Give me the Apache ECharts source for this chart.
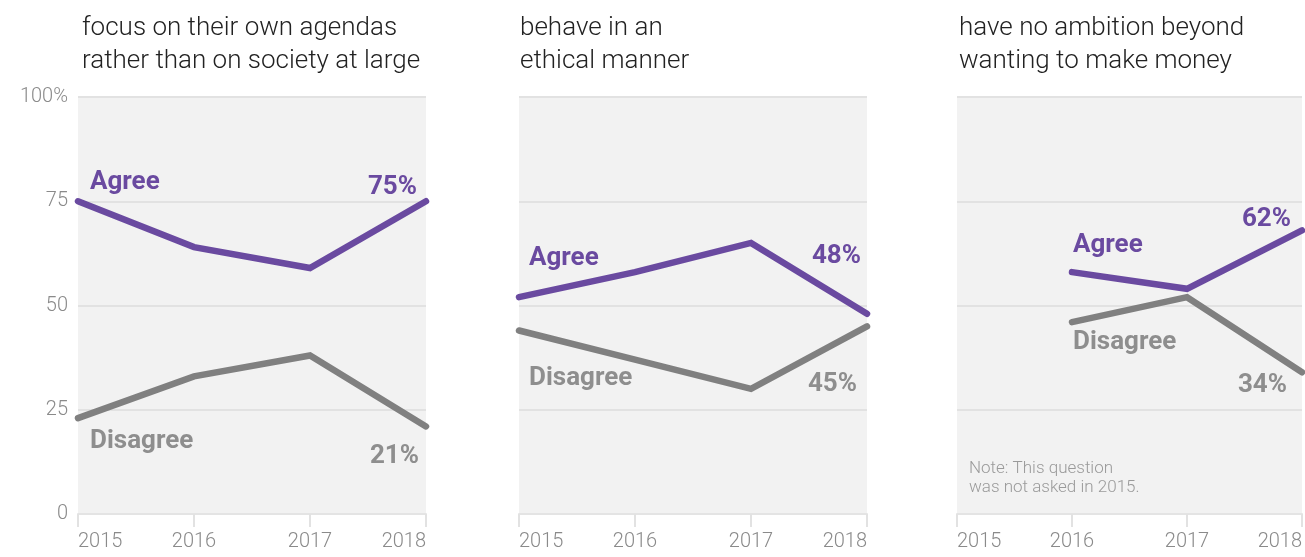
<!DOCTYPE html>
<html>
<head>
<meta charset="utf-8">
<script src="https://cdn.jsdelivr.net/npm/echarts@6/dist/echarts.min.js"></script>
<style>
  html, body { margin: 0; padding: 0; background: #fff; }
  #chart { width: 1305px; height: 557px; }
</style>
</head>
<body>
<div id="chart"></div>
<script>
const years = ['2015', '2016', '2017', '2018'];
const yTicks = [0, 25, 50, 75, 100];

const titles = [
  'focus on their own agendas\nrather than on society at large',
  'behave in an\nethical manner',
  'have no ambition beyond\nwanting to make money'
];

// values
const agree1 = [75, 64, 59, 75];
const disagree1 = [23, 33, 38, 21];
const agree2 = [52, 58, 65, 48];
const disagree2 = [44, 37, 30, 45];
const agree3 = [null, 58, 54, 68];
const disagree3 = [null, 46, 52, 34];

const endAgree = ['75%', '48%', '62%'];
const endDisagree = ['21%', '45%', '34%'];

const purple = '#6a4aa0';
const grey = '#808080';
const greyText = '#8e8e8e';
const axisText = '#8a8a8a';

const myChart = echarts.init(document.getElementById('chart'));

const gridLefts = [78, 519, 957];
const gridWidth = 348;

const grids = gridLefts.map(left => ({
  left: left, top: 97, width: gridWidth, height: 417,
  show: true, backgroundColor: '#f2f2f2', borderWidth: 0
}));

const xAxes = gridLefts.map((l, i) => ({
  type: 'category', gridIndex: i, data: years, boundaryGap: false,
  axisLine: { show: true, lineStyle: { color: '#e4e4e4', width: 2 } },
  axisTick: { show: true, length: 13, lineStyle: { color: '#e2e2e2', width: 2 } },
  axisLabel: {
    color: axisText, fontFamily: 'Roboto', fontWeight: 300, fontSize: 20,
    margin: 18, alignMinLabel: 'left', alignMaxLabel: 'right'
  }
}));

const yAxes = gridLefts.map((l, i) => ({
  type: 'value', gridIndex: i, min: 0, max: 100, interval: 25,
  axisLine: { show: false }, axisTick: { show: false },
  splitLine: { show: true, lineStyle: { color: '#e2e2e2', width: 2 } },
  axisLabel: {
    show: i === 0, color: axisText, fontFamily: 'Roboto', fontWeight: 300,
    fontSize: 20, margin: 10, padding: [5, 0, 0, 0],
    formatter: v => (v === yTicks[yTicks.length - 1] ? v + '%' : String(v))
  }
}));

function line(data, idx, color, z) {
  return {
    type: 'line', xAxisIndex: idx, yAxisIndex: idx, data: data,
    symbol: 'none', z: z, connectNulls: false,
    lineStyle: { color: color, width: 6.5, cap: 'round', join: 'miter' }
  };
}

const series = [
  line(disagree1, 0, grey, 2), line(agree1, 0, purple, 3),
  line(disagree2, 1, grey, 2), line(agree2, 1, purple, 3),
  line(disagree3, 2, grey, 2), line(agree3, 2, purple, 3)
];

const boldFont = { fontFamily: 'Roboto', fontWeight: 'bold', fontSize: 26 };

function txt(x, y, text, color, align) {
  return {
    type: 'text', x: x, y: y, z: 10,
    style: Object.assign({
      text: text, fill: color, textAlign: align || 'left', textVerticalAlign: 'middle'
    }, boldFont)
  };
}

const graphics = [];
titles.forEach((t, i) => {
  graphics.push({
    type: 'text', x: [82, 520, 959][i], y: 12, z: 10,
    style: {
      text: t, fill: '#222', fontFamily: 'Roboto',
      fontWeight: 300, fontSize: 26, lineHeight: 33
    }
  });
});

// series name labels and end value labels
graphics.push(txt(90, 182, 'Agree', purple));
graphics.push(txt(90, 441, 'Disagree', greyText));
graphics.push(txt(417, 187, endAgree[0], purple, 'right'));
graphics.push(txt(419, 456, endDisagree[0], greyText, 'right'));

graphics.push(txt(529, 258, 'Agree', purple));
graphics.push(txt(529, 378, 'Disagree', greyText));
graphics.push(txt(861, 256, endAgree[1], purple, 'right'));
graphics.push(txt(857, 384, endDisagree[1], greyText, 'right'));

graphics.push(txt(1073, 245, 'Agree', purple));
graphics.push(txt(1073, 342, 'Disagree', greyText));
graphics.push(txt(1291, 219, endAgree[2], purple, 'right'));
graphics.push(txt(1287, 385, endDisagree[2], greyText, 'right'));

graphics.push({
  type: 'text', x: 969, y: 459, z: 10,
  style: {
    text: 'Note: This question\nwas not asked in 2015.', fill: '#9a9a9a',
    fontFamily: 'Roboto', fontWeight: 300, fontSize: 17, lineHeight: 19
  }
});

const option = {
  animation: false,
  grid: grids,
  xAxis: xAxes,
  yAxis: yAxes,
  series: series,
  graphic: graphics
};

myChart.setOption(option);
window.addEventListener('resize', () => myChart.resize());
</script>
</body>
</html>
